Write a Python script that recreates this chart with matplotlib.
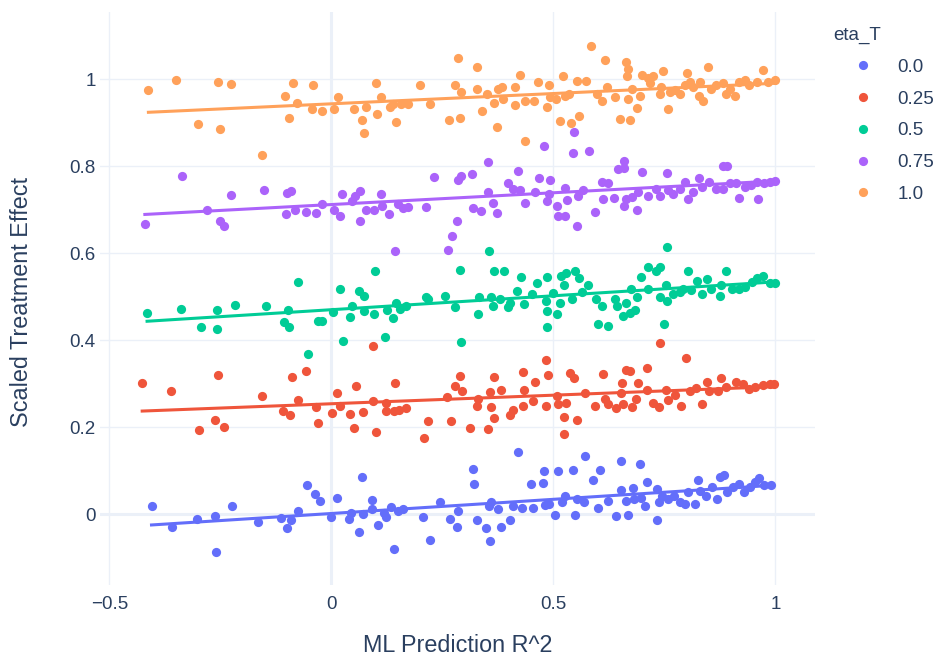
import numpy as np
import matplotlib
matplotlib.use("Agg")
import matplotlib.pyplot as plt
from matplotlib.lines import Line2D

plt.rcParams['font.family'] = ['Liberation Sans', 'DejaVu Sans']

# groups of eta_T
eta_labels = ["0.0", "0.25", "0.5", "0.75", "1.0"]
colors = ["#636EFA", "#EF553B", "#00CC96", "#AB63FA", "#FFA15A"]

# eta_T = 0.0
x_00 = [-0.405, -0.360, -0.303, -0.261, -0.259, -0.224, -0.166, -0.113, -0.100, -0.090,
        -0.075, -0.055, -0.037, -0.026, 0.000, 0.012, 0.040, 0.045, 0.062, 0.069,
        0.071, 0.092, 0.092, 0.104, 0.118, 0.124, 0.134, 0.140, 0.150, 0.161,
        0.206, 0.222, 0.245, 0.267, 0.283, 0.285, 0.319, 0.321, 0.328, 0.348,
        0.356, 0.358, 0.360, 0.381, 0.375, 0.402, 0.410, 0.420, 0.430, 0.449,
        0.453, 0.476, 0.479, 0.480, 0.490, 0.504, 0.511, 0.519, 0.527, 0.545,
        0.548, 0.553, 0.568, 0.571, 0.588, 0.601, 0.605, 0.624, 0.640, 0.653,
        0.694, 0.653, 0.664, 0.679, 0.668, 0.681, 0.697, 0.707, 0.710, 0.733,
        0.734, 0.738, 0.745, 0.757, 0.771, 0.784, 0.796, 0.804, 0.818, 0.825,
        0.830, 0.844, 0.856, 0.868, 0.874, 0.883, 0.891, 0.905, 0.917, 0.928,
        0.942, 0.955, 0.963, 0.975, 0.991]
y_00 = [0.019, -0.030, -0.011, -0.005, -0.088, 0.018, -0.019, -0.009, -0.033, -0.013,
        0.007, 0.066, 0.047, 0.031, -0.007, 0.038, -0.011, 0.003, -0.042, 0.085,
        0.000, 0.033, 0.012, -0.025, 0.003, -0.007, 0.016, -0.080, 0.007, 0.011,
        -0.007, -0.060, 0.027, -0.011, -0.029, 0.007, 0.104, 0.070, -0.013, -0.033,
        0.019, -0.062, 0.027, -0.029, 0.011, -0.013, 0.019, 0.142, 0.015, 0.070,
        0.015, 0.072, 0.098, 0.021, 0.023, -0.001, 0.098, 0.027, 0.042, 0.102,
        -0.001, 0.034, 0.028, 0.133, 0.078, 0.015, 0.102, 0.030, -0.005, 0.123,
        0.116, 0.055, 0.031, 0.060, -0.003, 0.034, 0.038, 0.019, 0.074, -0.013,
        0.058, 0.027, 0.042, 0.034, 0.042, 0.027, 0.023, 0.050, 0.023, 0.078,
        0.054, 0.042, 0.062, 0.034, 0.086, 0.090, 0.050, 0.062, 0.070, 0.050,
        0.062, 0.074, 0.083, 0.066, 0.066]

# eta_T = 0.25
x_025 = [-0.426, -0.362, -0.297, -0.263, -0.241, -0.255, -0.156, -0.109, -0.093, -0.088,
         -0.058, -0.076, -0.035, -0.030, 0.002, 0.013, 0.020, 0.041, 0.051, 0.056,
         0.072, 0.093, 0.094, 0.101, 0.122, 0.124, 0.143, 0.142, 0.153, 0.168,
         0.208, 0.217, 0.261, 0.270, 0.279, 0.290, 0.295, 0.313, 0.330, 0.328,
         0.352, 0.358, 0.359, 0.367, 0.367, 0.383, 0.402, 0.410, 0.431, 0.434,
         0.431, 0.453, 0.459, 0.483, 0.488, 0.484, 0.507, 0.511, 0.523, 0.523,
         0.529, 0.537, 0.546, 0.553, 0.570, 0.593, 0.612, 0.616, 0.624, 0.640,
         0.664, 0.673, 0.655, 0.653, 0.656, 0.676, 0.691, 0.687, 0.710, 0.710,
         0.725, 0.738, 0.740, 0.753, 0.757, 0.773, 0.788, 0.798, 0.808, 0.820,
         0.835, 0.845, 0.851, 0.878, 0.870, 0.889, 0.911, 0.927, 0.940, 0.955,
         0.971, 0.987, 0.997]
y_025 = [0.301, 0.284, 0.193, 0.217, 0.201, 0.320, 0.271, 0.238, 0.228, 0.315,
         0.328, 0.263, 0.247, 0.209, 0.233, 0.278, 0.249, 0.230, 0.199, 0.294,
         0.235, 0.386, 0.260, 0.188, 0.256, 0.237, 0.302, 0.238, 0.240, 0.243,
         0.175, 0.214, 0.268, 0.214, 0.295, 0.318, 0.282, 0.199, 0.264, 0.248,
         0.195, 0.280, 0.246, 0.316, 0.220, 0.286, 0.228, 0.240, 0.326, 0.286,
         0.248, 0.260, 0.304, 0.354, 0.320, 0.248, 0.272, 0.252, 0.222, 0.185,
         0.256, 0.324, 0.312, 0.216, 0.278, 0.248, 0.322, 0.264, 0.254, 0.243,
         0.332, 0.328, 0.302, 0.278, 0.254, 0.246, 0.302, 0.264, 0.336, 0.286,
         0.256, 0.246, 0.393, 0.286, 0.262, 0.274, 0.248, 0.358, 0.282, 0.290,
         0.252, 0.304, 0.284, 0.312, 0.284, 0.292, 0.304, 0.300, 0.288, 0.292,
         0.296, 0.300, 0.300]

# eta_T = 0.5
x_05 = [-0.415, -0.339, -0.293, -0.257, -0.257, -0.218, -0.148, -0.097, -0.107, -0.095,
        -0.075, -0.053, -0.030, -0.022, 0.004, 0.020, 0.027, 0.042, 0.046, 0.062,
        0.074, 0.074, 0.095, 0.099, 0.121, 0.126, 0.138, 0.146, 0.155, 0.169,
        0.212, 0.217, 0.256, 0.278, 0.290, 0.293, 0.332, 0.330, 0.356, 0.360,
        0.367, 0.363, 0.379, 0.389, 0.398, 0.402, 0.418, 0.426, 0.433, 0.452,
        0.464, 0.484, 0.486, 0.485, 0.485, 0.499, 0.509, 0.515, 0.517, 0.524,
        0.529, 0.542, 0.548, 0.558, 0.564, 0.577, 0.595, 0.601, 0.609, 0.622,
        0.638, 0.643, 0.656, 0.664, 0.672, 0.683, 0.675, 0.689, 0.697, 0.712,
        0.714, 0.730, 0.740, 0.740, 0.753, 0.755, 0.748, 0.755, 0.769, 0.784,
        0.792, 0.802, 0.810, 0.824, 0.835, 0.846, 0.854, 0.874, 0.877, 0.889,
        0.901, 0.917, 0.932, 0.948, 0.959, 0.971, 0.987, 1.000]
y_05 = [0.463, 0.471, 0.431, 0.469, 0.425, 0.481, 0.478, 0.469, 0.441, 0.431,
        0.534, 0.367, 0.443, 0.443, 0.464, 0.517, 0.397, 0.452, 0.478, 0.513,
        0.502, 0.466, 0.459, 0.558, 0.407, 0.469, 0.451, 0.486, 0.472, 0.478,
        0.498, 0.494, 0.502, 0.475, 0.562, 0.395, 0.498, 0.461, 0.605, 0.498,
        0.558, 0.478, 0.494, 0.559, 0.475, 0.486, 0.513, 0.544, 0.482, 0.506,
        0.532, 0.490, 0.544, 0.466, 0.431, 0.508, 0.461, 0.486, 0.548, 0.526,
        0.554, 0.494, 0.559, 0.542, 0.510, 0.526, 0.494, 0.437, 0.478, 0.433,
        0.494, 0.478, 0.455, 0.486, 0.462, 0.468, 0.518, 0.498, 0.544, 0.568,
        0.518, 0.559, 0.567, 0.498, 0.526, 0.613, 0.437, 0.490, 0.506, 0.510,
        0.518, 0.559, 0.514, 0.536, 0.506, 0.540, 0.518, 0.502, 0.526, 0.559,
        0.518, 0.518, 0.522, 0.534, 0.542, 0.548, 0.530, 0.532]

# eta_T = 0.75
x_075 = [-0.420, -0.337, -0.279, -0.251, -0.242, -0.226, -0.152, -0.101, -0.092, -0.102,
         -0.082, -0.057, -0.035, -0.022, 0.006, 0.020, 0.024, 0.046, 0.054, 0.065,
         0.065, 0.077, 0.097, 0.111, 0.114, 0.130, 0.144, 0.149, 0.161, 0.173,
         0.212, 0.231, 0.262, 0.272, 0.282, 0.284, 0.291, 0.317, 0.319, 0.336,
         0.353, 0.353, 0.363, 0.374, 0.398, 0.410, 0.420, 0.424, 0.436, 0.459,
         0.467, 0.478, 0.486, 0.492, 0.490, 0.509, 0.511, 0.527, 0.525, 0.531,
         0.545, 0.546, 0.553, 0.556, 0.567, 0.579, 0.593, 0.610, 0.612, 0.624,
         0.637, 0.646, 0.660, 0.658, 0.664, 0.660, 0.676, 0.689, 0.699, 0.691,
         0.714, 0.730, 0.741, 0.755, 0.757, 0.769, 0.784, 0.796, 0.802, 0.815,
         0.827, 0.835, 0.851, 0.866, 0.882, 0.891, 0.882, 0.897, 0.911, 0.917,
         0.932, 0.944, 0.958, 0.961, 0.975, 0.987, 1.000]
y_075 = [0.667, 0.776, 0.699, 0.673, 0.662, 0.734, 0.746, 0.739, 0.743, 0.690,
         0.700, 0.694, 0.692, 0.712, 0.698, 0.686, 0.736, 0.720, 0.732, 0.743,
         0.673, 0.700, 0.699, 0.736, 0.708, 0.690, 0.604, 0.712, 0.704, 0.706,
         0.706, 0.774, 0.607, 0.640, 0.674, 0.769, 0.776, 0.781, 0.703, 0.696,
         0.809, 0.740, 0.716, 0.692, 0.760, 0.748, 0.789, 0.744, 0.714, 0.740,
         0.772, 0.847, 0.719, 0.768, 0.736, 0.708, 0.684, 0.684, 0.750, 0.722,
         0.831, 0.879, 0.663, 0.730, 0.744, 0.835, 0.694, 0.764, 0.724, 0.760,
         0.726, 0.793, 0.811, 0.795, 0.724, 0.708, 0.728, 0.700, 0.787, 0.740,
         0.732, 0.748, 0.732, 0.783, 0.744, 0.736, 0.748, 0.764, 0.724, 0.740,
         0.772, 0.752, 0.764, 0.748, 0.799, 0.799, 0.748, 0.760, 0.760, 0.726,
         0.752, 0.756, 0.764, 0.724, 0.760, 0.764, 0.766]

# eta_T = 1.0
x_10 = [-0.412, -0.349, -0.300, -0.255, -0.250, -0.226, -0.156, -0.104, -0.086, -0.078,
        -0.096, -0.041, -0.043, -0.022, 0.005, 0.015, 0.051, 0.068, 0.074, 0.077,
        0.101, 0.111, 0.103, 0.132, 0.138, 0.146, 0.157, 0.173, 0.200, 0.222,
        0.264, 0.278, 0.284, 0.292, 0.289, 0.328, 0.328, 0.339, 0.350, 0.367,
        0.374, 0.375, 0.385, 0.387, 0.413, 0.414, 0.424, 0.437, 0.436, 0.457,
        0.466, 0.486, 0.490, 0.492, 0.506, 0.514, 0.522, 0.525, 0.535, 0.540,
        0.554, 0.558, 0.573, 0.584, 0.597, 0.609, 0.617, 0.620, 0.638, 0.649,
        0.664, 0.668, 0.665, 0.676, 0.668, 0.673, 0.689, 0.694, 0.699, 0.714,
        0.718, 0.725, 0.746, 0.742, 0.740, 0.757, 0.763, 0.773, 0.784, 0.800,
        0.796, 0.808, 0.815, 0.827, 0.836, 0.831, 0.849, 0.854, 0.866, 0.881,
        0.888, 0.897, 0.909, 0.917, 0.932, 0.940, 0.958, 0.971, 0.983, 1.000]
y_10 = [0.975, 0.998, 0.896, 0.994, 0.885, 0.988, 0.826, 0.960, 0.991, 0.944,
        0.910, 0.986, 0.932, 0.927, 0.931, 0.958, 0.931, 0.905, 0.877, 0.935,
        0.990, 0.958, 0.920, 0.935, 0.942, 0.902, 0.942, 0.942, 0.986, 0.942,
        0.905, 0.986, 1.048, 0.970, 0.910, 1.027, 0.976, 0.926, 0.966, 0.944,
        0.889, 0.976, 0.982, 0.954, 0.940, 0.982, 1.010, 0.950, 0.857, 0.950,
        0.994, 0.935, 0.986, 0.958, 0.954, 0.904, 1.006, 0.962, 0.966, 0.900,
        0.995, 0.914, 0.995, 1.075, 0.966, 0.950, 1.044, 0.982, 0.958, 0.908,
        1.038, 1.024, 1.006, 0.978, 0.954, 0.905, 0.934, 0.962, 1.010, 1.002,
        0.990, 1.006, 1.019, 0.982, 0.966, 0.932, 0.970, 0.974, 0.966, 1.014,
        0.986, 0.994, 0.982, 0.962, 0.950, 0.994, 1.027, 0.978, 0.986, 0.990,
        0.966, 0.978, 0.962, 0.994, 0.998, 0.986, 0.994, 1.021, 0.994, 0.998]

series = [(x_00, y_00), (x_025, y_025), (x_05, y_05), (x_075, y_075), (x_10, y_10)]
for xs, ys in series:
    assert len(xs) == len(ys), (len(xs), len(ys))

text_col = "#2a3f5f"
grid_col = "#EBF0F8"

fig = plt.figure(figsize=(9.38, 6.58), dpi=100)
ax = fig.add_axes([100 / 938, 1 - 585 / 658, 715 / 938, 573 / 658])
ax.set_xlim(-0.521, 1.089)
ax.set_ylim(-0.163, 1.154)
for sp in ax.spines.values():
    sp.set_visible(False)

ax.set_xticks([-0.5, 0, 0.5, 1])
ax.set_xticklabels(["\u22120.5", "0", "0.5", "1"])
ax.set_yticks([0, 0.2, 0.4, 0.6, 0.8, 1])
ax.set_yticklabels(["0", "0.2", "0.4", "0.6", "0.8", "1"])
ax.tick_params(length=0, colors=text_col, labelsize=13.5)
ax.tick_params(axis='x', pad=8)
ax.tick_params(axis='y', pad=3)
ax.grid(color=grid_col, linewidth=1)
ax.axvline(0, color=grid_col, linewidth=2.2, zorder=0.5)
ax.axhline(0, color=grid_col, linewidth=2.2, zorder=0.5)
ax.set_axisbelow(True)

# points and ols trendline per group
for i, (xs, ys) in enumerate(series):
    xs = np.array(xs)
    ys = np.array(ys)
    ax.scatter(xs, ys, s=44, color=colors[i], linewidths=0, zorder=3 + 2 * i)
    coef = np.polyfit(xs, ys, 1)
    xl = np.array([xs.min(), xs.max()])
    ax.plot(xl, np.polyval(coef, xl), color=colors[i], linewidth=2.2, zorder=4 + 2 * i)

fig.text(457.5 / 938, 1 - 646 / 658, "ML Prediction R^2", ha="center", va="center",
         fontsize=16.8, color=text_col)
fig.text(22 / 938, 1 - 302 / 658, "Scaled Treatment Effect", ha="center", va="center",
         rotation=90, fontsize=16.8, color=text_col)

handles = [Line2D([], [], linestyle="none", marker="o", markersize=6.6,
                  markerfacecolor=c, markeredgewidth=0) for c in colors]
leg = fig.legend(handles, eta_labels, title="eta_T", loc="upper left",
                 bbox_to_anchor=(833 / 938, 1 - 27 / 658), frameon=False,
                 fontsize=13.5, title_fontsize=13.5, alignment="left",
                 handlelength=3.2, handletextpad=0.25, labelspacing=0.78,
                 borderpad=0, borderaxespad=0, labelcolor=text_col)
leg.get_title().set_color(text_col)

fig.savefig("out.png", dpi=100)
